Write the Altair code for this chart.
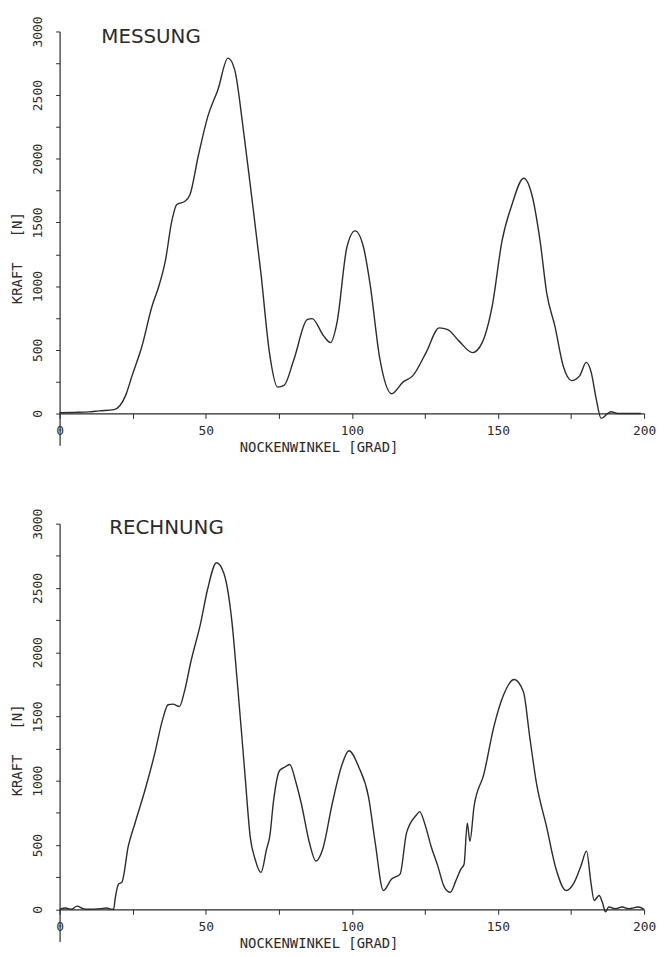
import altair as alt
import pandas as pd

# ---- data ----
mess_winkel = [0, 5, 10, 13.6, 18.6, 22.6, 24.8, 28.2, 31.6, 33.9, 36.2, 38.4, 40.1, 42.9, 44.6,
               47.5, 50.8, 54.2, 57.6, 59.9, 62.7, 65.5, 68.9, 71.8, 74.6, 76.8, 80.2, 84.7, 86.4,
               90.4, 92.7, 94.9, 98.3, 101.1, 104.0, 106.2, 109.6, 113.6, 117.5, 120.9, 125.4,
               129.9, 132.8, 136.7, 141.3, 144.6, 148.0, 151.4, 154.8, 158.8, 161.6, 164.4, 166.7,
               169.5, 172.3, 175.2, 178.0, 180.2, 181.9, 183.6, 185.3, 187.6, 188.7, 191.0, 198.9]
mess_kraft = [5, 8, 12, 20, 30, 142, 297, 530, 840, 995, 1200, 1512, 1641, 1667, 1718,
              2028, 2339, 2545, 2791, 2700, 2261, 1744, 1098, 478, 207, 220, 426, 736, 745,
              607, 556, 711, 1305, 1434, 1305, 1021, 426, 155, 246, 297, 478,
              672, 659, 568, 478, 556, 840, 1357, 1641, 1847, 1718, 1357, 943,
              684, 374, 258, 297, 401, 323, 116, -39, 0, 13, 0, 0]

rech_winkel = [0, 2, 4, 6, 8, 10, 14, 16, 18, 18.5, 19.0, 20.2, 21.3, 23.5, 25.8, 29.2, 32.5,
               35.4, 37.1, 38.8, 41.0, 42.7, 44.9, 48.3, 50.6, 53.7, 56.2, 59.0, 60.7, 62.4,
               63.5, 65.2, 66.9, 68.9, 70.8, 72.0, 73.1, 75.3, 77.0, 78.7, 81.0, 82.7, 85.5,
               87.7, 90.0, 93.3, 96.7, 99.0, 102.4, 105.7, 108.0, 110.8, 113.6, 116.5, 118.7,
               122.1, 123.2, 124.9, 127.1, 129.4, 131.7, 133.7, 135.6, 137.3, 138.4, 139.5,
               140.4, 141.8, 145.2, 148.5, 151.9, 155.5, 158.7, 160.9, 163.2, 166.6, 169.9,
               173.3, 176.1, 178.4, 180.3, 181.8, 182.9, 184.6, 185.7, 186.8, 187.9, 190.2,
               192.5, 194.7, 198.0, 200.0]
rech_kraft = [0, 10, 0, 25, 5, 0, 5, 10, 0, 0, 82, 197, 210, 491, 670, 926, 1207,
              1489, 1591, 1596, 1578, 1693, 1924, 2230, 2486, 2696, 2614, 2230, 1796, 1335,
              1028, 568, 389, 286, 466, 581, 823, 1080, 1105, 1126, 977, 823, 516,
              376, 466, 823, 1130, 1233, 1105, 875, 516, 146, 235, 274, 593,
              734, 760, 670, 491, 338, 171, 133, 223, 312, 351, 670,
              529, 798, 1054, 1412, 1667, 1788, 1693, 1335, 977, 645, 312,
              146, 210, 338, 453, 210, 69, 107, 56, -20, 18, 5,
              18, 5, 18, 0]

titles = ["MESSUNG", "RECHNUNG"]
x_title = "NOCKENWINKEL [GRAD]"
y_title = "KRAFT\u00a0\u00a0\u00a0[N]"

W = 589
Y_MIN, Y_MAX = -250, 3000
INK = "#2b2b2b"
MONO = "DejaVu Sans Mono"


def panel(winkel, kraft, title, interp, tx, ty, H):
    df = pd.DataFrame({"winkel": winkel, "kraft": kraft})
    x_enc = alt.X(
        "winkel:Q",
        scale=alt.Scale(domain=[0, 200], nice=False, zero=False),
        axis=alt.Axis(
            values=list(range(0, 201, 25)),
            labelExpr="datum.value % 50 == 0 ? datum.label : ''",
            title=x_title,
            offset=-H * (0 - Y_MIN) / (Y_MAX - Y_MIN),
            grid=False,
            tickSize=5,
            labelPadding=6,
            labelFlush=False,
            labelOverlap=False,
            titleX=261,
            titlePadding=3,
        ),
    )
    y_enc = alt.Y(
        "kraft:Q",
        scale=alt.Scale(domain=[Y_MIN, Y_MAX], nice=False, zero=False),
        axis=alt.Axis(
            values=list(range(0, 3001, 250)),
            labelExpr="datum.value % 500 == 0 ? datum.label : ''",
            format="d",
            title=y_title,
            grid=False,
            tickSize=4,
            labelAngle=270,
            labelAlign="center",
            labelBaseline="bottom",
            labelPadding=11,
            labelFlush=False,
            labelOverlap=False,
            titleAngle=270,
            titleX=-42,
            titleY=228,
            titleAlign="center",
            titleBaseline="middle",
        ),
    )
    line = alt.Chart(df).mark_line(
        color=INK, strokeWidth=1.4, interpolate=interp, clip=False
    ).encode(x=x_enc, y=y_enc)
    label = alt.Chart(pd.DataFrame({"t": [title]})).mark_text(
        align="left", baseline="alphabetic", font="DejaVu Sans", fontSize=20,
        color=INK,
    ).encode(text="t:N", x=alt.value(tx), y=alt.value(ty))
    return alt.layer(line, label).properties(width=W, height=H)


top = panel(mess_winkel, mess_kraft, titles[0], "monotone", 42, 12, 417)
bottom = panel(rech_winkel, rech_kraft, titles[1], "monotone", 50, 10, 421)

chart = alt.vconcat(top, bottom, spacing=54).configure_view(
    stroke=None
).configure_axis(
    domainColor=INK,
    tickColor=INK,
    labelColor=INK,
    titleColor=INK,
    labelFont=MONO,
    titleFont=MONO,
    labelFontSize=13,
    titleFontSize=14,
    titleFontWeight="normal",
    domainWidth=1.2,
).properties(
    padding={"left": 3, "top": 4, "right": 0, "bottom": 0},
    background="white",
)

chart.save("out.html", embed_options={"renderer": "svg", "actions": False})
